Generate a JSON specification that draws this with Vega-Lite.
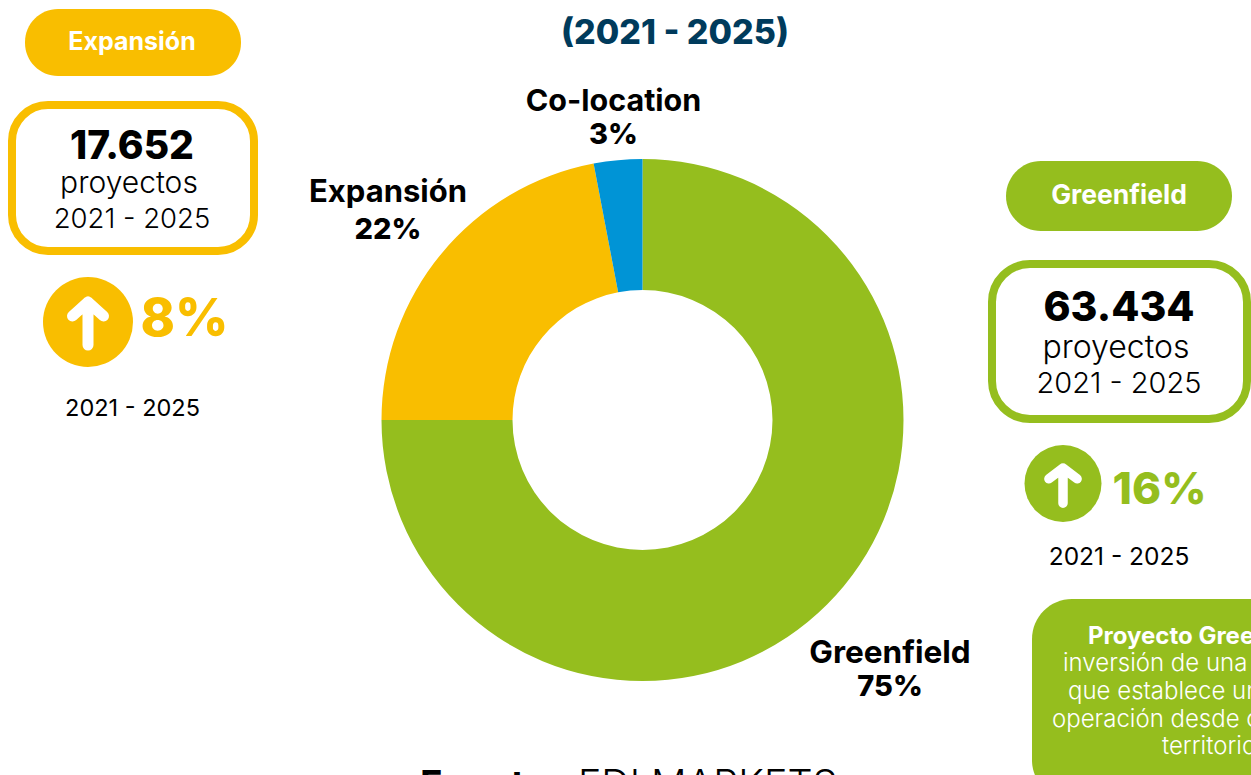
{"$schema":"https://vega.github.io/schema/vega-lite/v6.json","width":1251,"height":775,"padding":0,"autosize":{"type":"none"},"background":"white","view":{"stroke":null},"config":{"text":{"font":"Inter","baseline":"alphabetic","align":"center"}},
"data":{"values":[{"tipo":"Greenfield","pct":75,"orden":1},{"tipo":"Expansión","pct":22,"orden":2},{"tipo":"Co-location","pct":3,"orden":3}]},
"layer":[
{"mark":{"type":"arc","radius":261,"radius2":130},"encoding":{"x":{"datum":642.5,"type":"quantitative","axis":null,"scale":{"domain":[0,1251],"nice":false,"zero":false}},"y":{"datum":420,"type":"quantitative","axis":null,"scale":{"domain":[775,0],"nice":false,"zero":false}},"theta":{"field":"pct","type":"quantitative","stack":true},"order":{"field":"orden"},"color":{"field":"tipo","type":"nominal","legend":null,"scale":{"domain":["Greenfield","Expansión","Co-location"],"range":["#95BE1E","#F9BE00","#0094D6"]}}}},
{"data":{"values":[{"k":"Expansión"}]},"mark":{"type":"rect","color":"#F9BE00","cornerRadius":33},"encoding":{"x":{"datum":25,"type":"quantitative","axis":null},"x2":{"datum":241},"y":{"datum":9,"type":"quantitative","axis":null},"y2":{"datum":76}}},
{"data":{"values":[{"k":"Greenfield"}]},"mark":{"type":"rect","color":"#95BE1E","cornerRadius":35},"encoding":{"x":{"datum":1006,"type":"quantitative","axis":null},"x2":{"datum":1232},"y":{"datum":161,"type":"quantitative","axis":null},"y2":{"datum":231}}},
{"data":{"values":[{"k":"Expansión"}]},"mark":{"type":"rect","fill":"white","stroke":"#F9BE00","strokeWidth":8,"cornerRadius":36},"encoding":{"x":{"datum":12,"type":"quantitative","axis":null},"x2":{"datum":254},"y":{"datum":105,"type":"quantitative","axis":null},"y2":{"datum":251}}},
{"data":{"values":[{"k":"Greenfield"}]},"mark":{"type":"rect","fill":"white","stroke":"#95BE1E","strokeWidth":8,"cornerRadius":38},"encoding":{"x":{"datum":992,"type":"quantitative","axis":null},"x2":{"datum":1247},"y":{"datum":264,"type":"quantitative","axis":null},"y2":{"datum":419}}},
{"data":{"values":[{"k":"Greenfield"}]},"mark":{"type":"rect","color":"#95BE1E","cornerRadius":40},"encoding":{"x":{"datum":1032,"type":"quantitative","axis":null},"x2":{"datum":1320},"y":{"datum":599,"type":"quantitative","axis":null},"y2":{"datum":800}}},
{"data":{"values":[{"k":"Expansión"}]},"mark":{"type":"point","filled":true,"shape":"circle","size":8100,"color":"#F9BE00","opacity":1},"encoding":{"x":{"datum":88,"type":"quantitative","axis":null},"y":{"datum":322,"type":"quantitative","axis":null}}},
{"data":{"values":[{"k":"Greenfield"}]},"mark":{"type":"point","filled":true,"shape":"circle","size":5929,"color":"#95BE1E","opacity":1},"encoding":{"x":{"datum":1063,"type":"quantitative","axis":null},"y":{"datum":483.5,"type":"quantitative","axis":null}}},
{"data":{"values":[{"k":"Expansión"}]},"mark":{"type":"point","filled":false,"shape":"M0,0.46L0,-0.4M-0.31,-0.12L0,-0.4L0.31,-0.12","size":10000,"fill":null,"stroke":"white","strokeWidth":11,"strokeCap":"round","strokeJoin":"round","opacity":1},"encoding":{"x":{"datum":88,"type":"quantitative","axis":null},"y":{"datum":322,"type":"quantitative","axis":null}}},
{"data":{"values":[{"k":"Greenfield"}]},"mark":{"type":"point","filled":false,"shape":"M0,0.46L0,-0.36M-0.33,-0.11L0,-0.36L0.33,-0.11","size":7310,"fill":null,"stroke":"white","strokeWidth":9.5,"strokeCap":"round","strokeJoin":"round","opacity":1},"encoding":{"x":{"datum":1063,"type":"quantitative","axis":null},"y":{"datum":483.5,"type":"quantitative","axis":null}}},
{"data":{"values":[{"t":"(2021 - 2025)"}]},"mark":{"type":"text","fontSize":34,"fontWeight":800,"color":"#003B5C"},"encoding":{"text":{"field":"t"},"x":{"datum":675,"type":"quantitative","axis":null},"y":{"datum":44,"type":"quantitative","axis":null}}},
{"data":{"values":[{"t":"Expansión"}]},"mark":{"type":"text","fontSize":25,"fontWeight":700,"color":"white"},"encoding":{"text":{"field":"t"},"x":{"datum":132,"type":"quantitative","axis":null},"y":{"datum":50,"type":"quantitative","axis":null}}},
{"data":{"values":[{"t":"17.652"}]},"mark":{"type":"text","fontSize":39,"fontWeight":800,"color":"black"},"encoding":{"text":{"field":"t"},"x":{"datum":132,"type":"quantitative","axis":null},"y":{"datum":159,"type":"quantitative","axis":null}}},
{"data":{"values":[{"t":"proyectos"}]},"mark":{"type":"text","fontSize":30,"fontWeight":300,"color":"black"},"encoding":{"text":{"field":"t"},"x":{"datum":129,"type":"quantitative","axis":null},"y":{"datum":193,"type":"quantitative","axis":null}}},
{"data":{"values":[{"t":"2021 - 2025"}]},"mark":{"type":"text","fontSize":27.5,"fontWeight":300,"color":"black"},"encoding":{"text":{"field":"t"},"x":{"datum":132,"type":"quantitative","axis":null},"y":{"datum":228,"type":"quantitative","axis":null}}},
{"data":{"values":[{"t":"8%"}]},"mark":{"type":"text","fontSize":52,"fontWeight":800,"color":"#F9BE00"},"encoding":{"text":{"field":"t"},"x":{"datum":184.5,"type":"quantitative","axis":null},"y":{"datum":336,"type":"quantitative","axis":null}}},
{"data":{"values":[{"t":"2021 - 2025"}]},"mark":{"type":"text","fontSize":23.5,"fontWeight":400,"color":"black"},"encoding":{"text":{"field":"t"},"x":{"datum":132.5,"type":"quantitative","axis":null},"y":{"datum":416,"type":"quantitative","axis":null}}},
{"data":{"values":[{"t":"Co-location"}]},"mark":{"type":"text","fontSize":30.5,"fontWeight":700,"color":"black"},"encoding":{"text":{"field":"t"},"x":{"datum":613.5,"type":"quantitative","axis":null},"y":{"datum":111,"type":"quantitative","axis":null}}},
{"data":{"values":[{"t":"3%"}]},"mark":{"type":"text","fontSize":29,"fontWeight":800,"color":"black"},"encoding":{"text":{"field":"t"},"x":{"datum":613.5,"type":"quantitative","axis":null},"y":{"datum":144,"type":"quantitative","axis":null}}},
{"data":{"values":[{"t":"Expansión"}]},"mark":{"type":"text","fontSize":31,"fontWeight":700,"color":"black"},"encoding":{"text":{"field":"t"},"x":{"datum":388,"type":"quantitative","axis":null},"y":{"datum":202,"type":"quantitative","axis":null}}},
{"data":{"values":[{"t":"22%"}]},"mark":{"type":"text","fontSize":29,"fontWeight":800,"color":"black"},"encoding":{"text":{"field":"t"},"x":{"datum":388,"type":"quantitative","axis":null},"y":{"datum":239,"type":"quantitative","axis":null}}},
{"data":{"values":[{"t":"Greenfield"}]},"mark":{"type":"text","fontSize":31.5,"fontWeight":700,"color":"black"},"encoding":{"text":{"field":"t"},"x":{"datum":890,"type":"quantitative","axis":null},"y":{"datum":663,"type":"quantitative","axis":null}}},
{"data":{"values":[{"t":"75%"}]},"mark":{"type":"text","fontSize":29,"fontWeight":800,"color":"black"},"encoding":{"text":{"field":"t"},"x":{"datum":890,"type":"quantitative","axis":null},"y":{"datum":696,"type":"quantitative","axis":null}}},
{"data":{"values":[{"t":"Greenfield"}]},"mark":{"type":"text","fontSize":26.5,"fontWeight":700,"color":"white"},"encoding":{"text":{"field":"t"},"x":{"datum":1119,"type":"quantitative","axis":null},"y":{"datum":204,"type":"quantitative","axis":null}}},
{"data":{"values":[{"t":"63.434"}]},"mark":{"type":"text","fontSize":41,"fontWeight":800,"color":"black"},"encoding":{"text":{"field":"t"},"x":{"datum":1119,"type":"quantitative","axis":null},"y":{"datum":321,"type":"quantitative","axis":null}}},
{"data":{"values":[{"t":"proyectos"}]},"mark":{"type":"text","fontSize":32,"fontWeight":300,"color":"black"},"encoding":{"text":{"field":"t"},"x":{"datum":1116,"type":"quantitative","axis":null},"y":{"datum":358,"type":"quantitative","axis":null}}},
{"data":{"values":[{"t":"2021 - 2025"}]},"mark":{"type":"text","fontSize":29,"fontWeight":300,"color":"black"},"encoding":{"text":{"field":"t"},"x":{"datum":1119,"type":"quantitative","axis":null},"y":{"datum":393,"type":"quantitative","axis":null}}},
{"data":{"values":[{"t":"16%"}]},"mark":{"type":"text","fontSize":44,"fontWeight":800,"color":"#95BE1E"},"encoding":{"text":{"field":"t"},"x":{"datum":1159.5,"type":"quantitative","axis":null},"y":{"datum":504,"type":"quantitative","axis":null}}},
{"data":{"values":[{"t":"2021 - 2025"}]},"mark":{"type":"text","fontSize":24.5,"fontWeight":400,"color":"black"},"encoding":{"text":{"field":"t"},"x":{"datum":1119,"type":"quantitative","axis":null},"y":{"datum":565,"type":"quantitative","axis":null}}},
{"data":{"values":[{"t":"Proyecto Greenfield:"}]},"mark":{"type":"text","fontSize":24,"fontWeight":700,"color":"white","align":"left"},"encoding":{"text":{"field":"t"},"x":{"datum":1088,"type":"quantitative","axis":null},"y":{"datum":644,"type":"quantitative","axis":null}}},
{"data":{"values":[{"t":"inversión de una empresa"}]},"mark":{"type":"text","fontSize":24,"fontWeight":300,"color":"white","align":"left"},"encoding":{"text":{"field":"t"},"x":{"datum":1063,"type":"quantitative","axis":null},"y":{"datum":671,"type":"quantitative","axis":null}}},
{"data":{"values":[{"t":"que establece una"}]},"mark":{"type":"text","fontSize":24,"fontWeight":300,"color":"white","align":"left"},"encoding":{"text":{"field":"t"},"x":{"datum":1068,"type":"quantitative","axis":null},"y":{"datum":699,"type":"quantitative","axis":null}}},
{"data":{"values":[{"t":"operación desde cero en un"}]},"mark":{"type":"text","fontSize":24,"fontWeight":300,"color":"white","align":"left"},"encoding":{"text":{"field":"t"},"x":{"datum":1052,"type":"quantitative","axis":null},"y":{"datum":727,"type":"quantitative","axis":null}}},
{"data":{"values":[{"t":"territorio"}]},"mark":{"type":"text","fontSize":24,"fontWeight":300,"color":"white","align":"left"},"encoding":{"text":{"field":"t"},"x":{"datum":1162,"type":"quantitative","axis":null},"y":{"datum":754,"type":"quantitative","axis":null}}},
{"data":{"values":[{"t":"Fuente:"}]},"mark":{"type":"text","fontSize":38,"fontWeight":700,"color":"black","align":"left"},"encoding":{"text":{"field":"t"},"x":{"datum":420,"type":"quantitative","axis":null},"y":{"datum":798,"type":"quantitative","axis":null}}},
{"data":{"values":[{"t":"FDI MARKETS"}]},"mark":{"type":"text","fontSize":39.5,"fontWeight":300,"color":"black","align":"left"},"encoding":{"text":{"field":"t"},"x":{"datum":578,"type":"quantitative","axis":null},"y":{"datum":798,"type":"quantitative","axis":null}}}
]}
